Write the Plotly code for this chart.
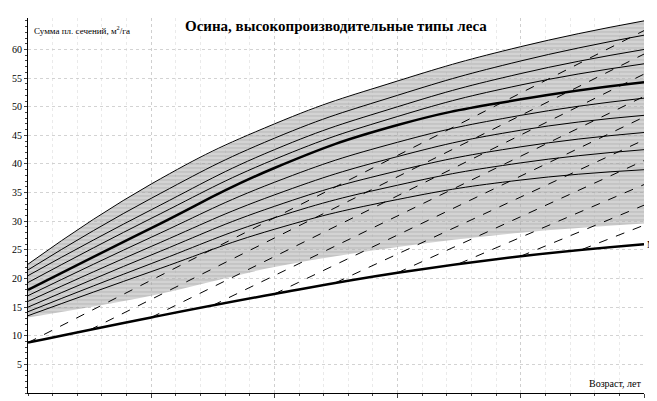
import plotly.graph_objects as go

ages = [20, 30, 40, 50, 60, 70]

# family of solid curves (top = upper envelope), m2/ha
upper = [22.5, 36.5, 47, 54.5, 60.5, 65]
c2 = [21.5, 34, 44.5, 52, 58, 62.5]
c3 = [20.5, 32, 42.5, 50, 55.8, 60]
c4 = [19.3, 30.5, 40.8, 48.3, 53.8, 57.5]
bold = [18, 28.8, 39.3, 46.8, 51.3, 54.3]
c6 = [17, 27.2, 36.8, 43.8, 48.5, 51.5]
c7 = [16, 25.6, 34.6, 41.3, 45.9, 48.5]
c8 = [15, 24.1, 32.6, 38.8, 43, 45.5]
c9 = [14.2, 22.6, 30.6, 36.3, 40.2, 42.5]
c10 = [13.5, 21.2, 28.6, 33.8, 37.2, 39]
lower_band = [13.2, 17, 22, 25.5, 28, 29.6]
m_curve = [8.8, 13.2, 17.3, 21, 23.9, 26]

# dashed lines: start on M curve, end at age 70
dash_start_age = [20, 25, 30, 35, 40, 45, 50, 55, 60, 65]
dash_start_val = [8.8, 11, 13.2, 15.3, 17.3, 19.3, 21, 22.6, 23.9, 25.1]
dash_end_val = [63.3, 59.2, 55.7, 51.8, 48.2, 44.2, 40.6, 36.4, 32.8, 29.3]

fig = go.Figure()

# shaded band
fig.add_trace(go.Scatter(x=ages, y=lower_band, mode="lines", line=dict(width=0, shape="spline"),
                         showlegend=False, hoverinfo="skip"))
fig.add_trace(go.Scatter(x=ages, y=upper, mode="lines", line=dict(width=0, shape="spline"),
                         fill="tonexty", fillcolor="rgba(175,175,175,0.55)",
                         fillpattern=dict(shape="-", fgcolor="rgba(120,120,120,0.5)", size=4, solidity=0.3),
                         showlegend=False, hoverinfo="skip"))

for a0, v0, v1 in zip(dash_start_age, dash_start_val, dash_end_val):
    fig.add_trace(go.Scatter(x=[a0, 70], y=[v0, v1], mode="lines",
                             line=dict(color="black", width=1, dash="dash"), showlegend=False))

for c in [upper, c2, c3, c4, c6, c7, c8, c9, c10]:
    fig.add_trace(go.Scatter(x=ages, y=c, mode="lines",
                             line=dict(color="black", width=1, shape="spline", smoothing=1.3), showlegend=False))
fig.add_trace(go.Scatter(x=ages, y=bold, mode="lines",
                         line=dict(color="black", width=2.5, shape="spline", smoothing=1.3), showlegend=False))
fig.add_trace(go.Scatter(x=ages, y=m_curve, mode="lines",
                         line=dict(color="black", width=2.5, shape="spline", smoothing=1.3), showlegend=False))

fig.add_annotation(x=70, y=m_curve[-1], text="M", showarrow=False, xanchor="left", xshift=1,
                   font=dict(size=10, color="black"))
fig.add_annotation(x=0.5, y=1.0, xref="paper", yref="paper", text="<b>Осина, высокопроизводительные типы леса</b>",
                   showarrow=False, yanchor="bottom", yshift=-18, font=dict(size=15, color="black"))
fig.add_annotation(x=0, y=1, xref="paper", yref="paper", text="Сумма пл. сечений, м<sup>2</sup>/га",
                   showarrow=False, xanchor="left", yanchor="top", xshift=4, yshift=-4,
                   font=dict(size=9, color="black"))
fig.add_annotation(x=1, y=0, xref="paper", yref="paper", text="Возраст, лет",
                   showarrow=False, xanchor="right", yanchor="bottom", yshift=2,
                   font=dict(size=10, color="black"))

fig.update_xaxes(range=[20, 70], tickvals=[30, 40, 50, 60, 70], showgrid=True, automargin=False,
                 gridcolor="rgba(200,200,200,0.8)", griddash="dot", showline=True, linecolor="black",
                 ticks="outside", ticklen=4, minor=dict(dtick=2, ticks="outside", ticklen=2, showgrid=True,
                 gridcolor="rgba(225,225,225,0.7)", griddash="dot"), zeroline=False)
fig.update_yaxes(range=[0, 65.5], tickvals=list(range(5, 61, 5)), showgrid=True, automargin=False,
                 gridcolor="rgba(200,200,200,0.8)", griddash="dot", showline=True, linecolor="black",
                 ticks="outside", ticklen=3, ticklabelstandoff=0,
                 minor=dict(dtick=1, ticks="outside", ticklen=2), zeroline=False)

fig.update_layout(width=657, height=401, margin=dict(l=20, r=21, t=10, b=16),
                  plot_bgcolor="white", paper_bgcolor="white",
                  font=dict(family="Liberation Serif, Times New Roman, serif", size=10, color="black"))

fig.write_html("out.html")
